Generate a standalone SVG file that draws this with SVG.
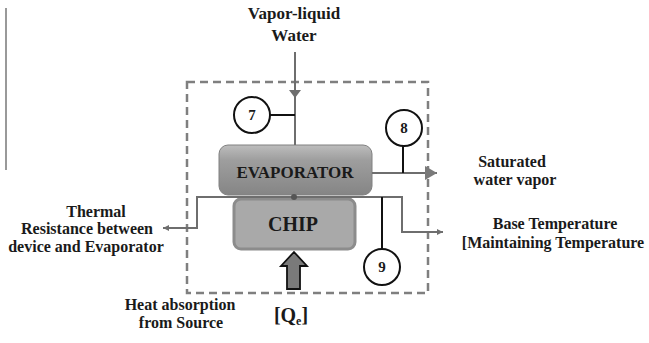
<svg xmlns="http://www.w3.org/2000/svg" width="649" height="343" viewBox="0 0 649 343">
<defs>
<style>
.t{font-family:"Liberation Serif","Times New Roman",serif;font-weight:bold;fill:#1a1a1a;text-anchor:middle}
.gl{stroke:#6e6e6e;stroke-width:2;fill:none}
.bl{stroke:#111;stroke-width:2;fill:none}
.circ{fill:#fff;stroke:#111;stroke-width:2}
</style>
<linearGradient id="evg" x1="0" y1="0" x2="0" y2="1">
<stop offset="0" stop-color="#bdbdbd"/>
<stop offset="0.3" stop-color="#9e9e9e"/>
<stop offset="1" stop-color="#858585"/>
</linearGradient>
<marker id="ah" viewBox="0 0 10 10" refX="10" refY="5" markerWidth="6" markerHeight="6" orient="auto" markerUnits="userSpaceOnUse">
<path d="M0,0 L10,5 L0,10 z" fill="#6e6e6e"/>
</marker>
<marker id="ahBig" viewBox="0 0 10 10" refX="10" refY="5" markerWidth="12" markerHeight="14" orient="auto" markerUnits="userSpaceOnUse" preserveAspectRatio="none">
<path d="M0,0 L10,5 L0,10 z" fill="#7a7a7a"/>
</marker>
</defs>
<rect width="649" height="343" fill="#fff"/>
<line x1="6" y1="8" x2="6" y2="170" stroke="#777" stroke-width="1.5"/>
<rect id="boundary" x="187" y="82" width="241" height="211" fill="none" stroke="#7f7f7f" stroke-width="2.5" stroke-dasharray="8,5"/>

<g id="evaporator">
<rect x="219" y="145" width="153" height="50" rx="9" fill="url(#evg)" stroke="#808080" stroke-width="1"/>
<text class="t" x="295" y="178" font-size="17">EVAPORATOR</text>
</g>
<g id="chip">
<rect x="234" y="199" width="121" height="50" rx="7" fill="#a9a9a9" stroke="#8c8c8c" stroke-width="3"/>
<text class="t" x="293" y="231" font-size="20">CHIP</text>
</g>

<g id="connectors">
<line class="gl" x1="295" y1="52" x2="295" y2="145"/>
<path d="M289,90 L301,90 L295,98 z" fill="#6e6e6e"/>
<line class="bl" x1="270" y1="115" x2="295" y2="115"/>
<line class="gl" x1="372" y1="173" x2="437" y2="173" marker-end="url(#ahBig)"/>
<line class="bl" x1="403" y1="146" x2="403" y2="173"/>
<path class="gl" d="M294,197 L197,197 L197,228 L163,228" marker-end="url(#ah)"/>
<path class="gl" d="M294,197 L402,197 L402,232 L443,232" marker-end="url(#ah)"/>
<line class="bl" x1="382" y1="197" x2="382" y2="249"/>
<circle cx="294" cy="197" r="3" fill="#555"/>
<path d="M294,252 L307,266 L300,266 L300,289 L287,289 L287,266 L281,266 z" fill="#7a7a7a" stroke="#111" stroke-width="1.8" stroke-linejoin="miter"/>
</g>

<g id="n7"><circle class="circ" cx="252" cy="115" r="18"/><text class="t" x="252" y="120" font-size="15">7</text></g>
<g id="n8"><circle class="circ" cx="404" cy="128" r="18"/><text class="t" x="404" y="133" font-size="15">8</text></g>
<g id="n9"><circle class="circ" cx="382" cy="267" r="18"/><text class="t" x="382" y="272" font-size="15">9</text></g>

<g id="labels">
<text class="t" x="294" y="19" font-size="17">Vapor-liquid</text>
<text class="t" x="294" y="41" font-size="17">Water</text>
<text class="t" x="96" y="217" font-size="16">Thermal</text>
<text class="t" x="87" y="234" font-size="16">Resistance between</text>
<text class="t" x="86" y="252" font-size="16">device and Evaporator</text>
<text class="t" x="180" y="310" font-size="16">Heat absorption</text>
<text class="t" x="181" y="328" font-size="16">from Source</text>
<text class="t" x="291" y="322" font-size="20">[Q<tspan font-size="12" dy="3">e</tspan><tspan dy="-3">]</tspan></text>
<text class="t" x="512" y="167" font-size="16">Saturated</text>
<text class="t" x="515" y="185" font-size="16">water vapor</text>
<text class="t" x="555" y="229" font-size="16">Base Temperature</text>
<text class="t" x="553" y="248" font-size="16">[Maintaining Temperature</text>
</g>
</svg>
